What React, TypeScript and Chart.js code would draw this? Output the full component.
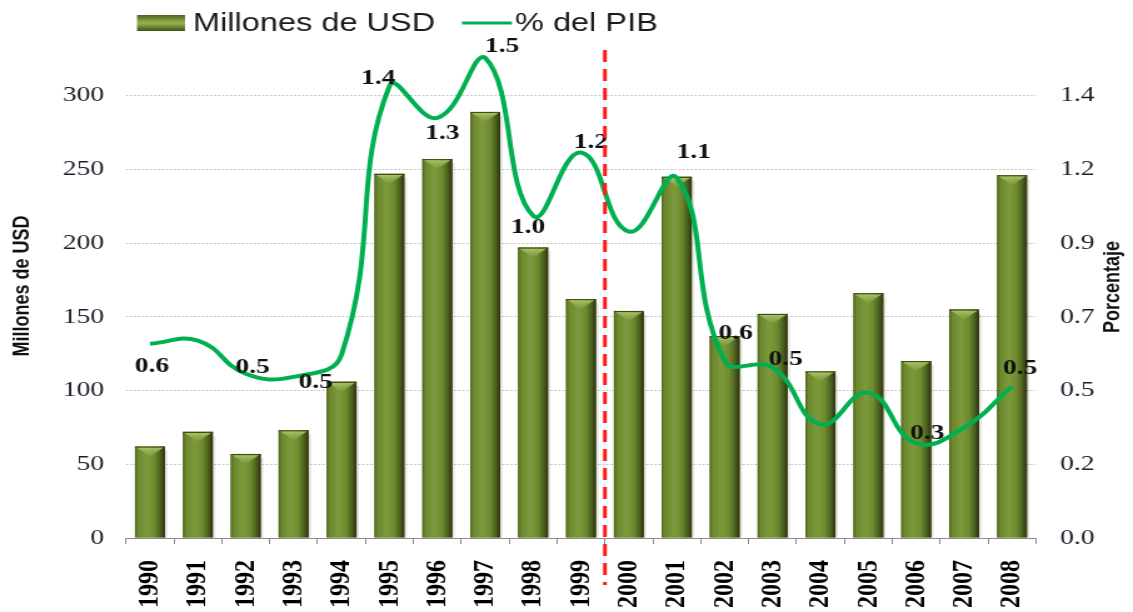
import { useEffect, useRef } from 'react';
import { Chart, registerables } from 'chart.js';

Chart.register(...registerables);

// ---------- data ----------
const years = ['1990', '1991', '1992', '1993', '1994', '1995', '1996', '1997', '1998', '1999', '2000', '2001', '2002', '2003', '2004', '2005', '2006', '2007', '2008'];
const millonesUSD = [62, 72, 57, 73, 106, 247, 257, 289, 197, 162, 154, 245, 137, 152, 113, 166, 120, 155, 246];
const pctPIB = [0.615, 0.625, 0.52, 0.51, 0.58, 1.43, 1.33, 1.52, 1.02, 1.22, 0.97, 1.14, 0.56, 0.54, 0.36, 0.46, 0.3, 0.35, 0.48];
const pctLabels: (string | null)[] = ['0.6', null, '0.5', '0.5', null, '1.4', '1.3', '1.5', '1.0', '1.2', null, '1.1', '0.6', '0.5', null, null, '0.3', null, '0.5'];
const leftTicks = [0, 50, 100, 150, 200, 250, 300];
const rightTicks = [0, 0.23333, 0.46667, 0.7, 0.93333, 1.16667, 1.4];
const seriesNames = ['Millones de USD', '% del PIB'];
const axisTitles = ['Millones de USD', 'Porcentaje'];
// label offsets relative to the point (image px, x then y)
const labelOffsets: [number, number][] = [[2, 23], [0, 0], [7, -6], [22, 5], [0, 0], [-11, -8], [5, 15], [17, -11], [-5, 12], [10, -10], [0, 0], [17, -26], [11, -28], [13, -8], [0, 0], [0, 0], [11, -10], [0, 0], [8, -18]];

// ---------- layout ----------
const OUT_W = 1133;
const H = 612;
const CW = 906; // canvas drawing width (stretched horizontally to OUT_W)
const SX = OUT_W / CW;
const px = (v: number) => v / SX; // image-x -> canvas-x

const barStyle = {
  id: 'barStyle',
  afterDatasetDraw(chart: any, args: any) {
    if (args.index !== 0) return;
    const ctx = chart.ctx as CanvasRenderingContext2D;
    ctx.save();
    args.meta.data.forEach((el: any) => {
      const { x, y, base, width } = el.getProps(['x', 'y', 'base', 'width'], true);
      const l = x - width / 2;
      const r = x + width / 2;
      const t = Math.min(y, base);
      const b = Math.max(y, base);
      ctx.fillStyle = 'rgba(0,0,0,0.10)';
      ctx.fillRect(r, t + 4, 2, b - t - 4);
      const g = ctx.createLinearGradient(l, 0, r, 0);
      g.addColorStop(0, '#4f631c');
      g.addColorStop(0.1, '#6c872e');
      g.addColorStop(0.4, '#7d9a3b');
      g.addColorStop(0.65, '#6f8b30');
      g.addColorStop(0.85, '#4c5f1e');
      g.addColorStop(1, '#29320c');
      ctx.fillStyle = g;
      ctx.fillRect(l, t, width, b - t);
      ctx.fillStyle = '#3e4d16';
      ctx.fillRect(l, t, width, 1.2);
      const cg = ctx.createLinearGradient(0, t, 0, t + 10);
      cg.addColorStop(0, '#b2cb6e');
      cg.addColorStop(1, 'rgba(130,160,65,0.5)');
      ctx.beginPath();
      ctx.moveTo(l + 1.5, t + 1.2);
      ctx.lineTo(r - 1.5, t + 1.2);
      ctx.lineTo(x, t + 10);
      ctx.closePath();
      ctx.fillStyle = cg;
      ctx.fill();
    });
    ctx.restore();
  },
};

const overlay = {
  id: 'overlay',
  afterDatasetsDraw(chart: any) {
    const ctx = chart.ctx as CanvasRenderingContext2D;
    const meta = chart.getDatasetMeta(1);
    ctx.save();
    // data labels
    ctx.font = 'bold 22px "Liberation Serif", "DejaVu Serif", serif';
    ctx.fillStyle = '#111';
    ctx.textAlign = 'center';
    ctx.textBaseline = 'middle';
    meta.data.forEach((pt: any, i: number) => {
      const txt = pctLabels[i];
      if (!txt) return;
      const [dx, dy] = labelOffsets[i];
      ctx.fillText(txt, pt.x + px(dx), pt.y + dy);
    });
    // red dashed separator between 1999 and 2000
    const xs = chart.scales.x;
    const xr = (xs.getPixelForValue(9) + xs.getPixelForValue(10)) / 2;
    ctx.strokeStyle = '#ff1a1a';
    ctx.lineWidth = 3;
    ctx.setLineDash([12, 7]);
    ctx.beginPath();
    ctx.moveTo(xr, 50);
    ctx.lineTo(xr, 585);
    ctx.stroke();
    ctx.setLineDash([]);

    // legend
    const ly = 23;
    const bx = px(137), bw = px(185) - px(137);
    const bg = ctx.createLinearGradient(0, 15, 0, 31);
    bg.addColorStop(0, '#4f631c');
    bg.addColorStop(0.45, '#8fae4d');
    bg.addColorStop(0.55, '#8fae4d');
    bg.addColorStop(1, '#3f4f15');
    ctx.fillStyle = bg;
    ctx.fillRect(bx, 15, bw, 16);
    ctx.font = '26px "Liberation Sans", Arial, sans-serif';
    ctx.fillStyle = '#1a1a1a';
    ctx.textAlign = 'left';
    ctx.textBaseline = 'middle';
    ctx.fillText(seriesNames[0], px(193), ly + 1);
    ctx.strokeStyle = '#00b050';
    ctx.lineWidth = 3;
    ctx.beginPath();
    ctx.moveTo(px(462), ly);
    ctx.lineTo(px(512), ly);
    ctx.stroke();
    ctx.fillText(seriesNames[1], px(515), ly + 1);

    // axis titles
    ctx.font = 'bold 18px "Liberation Sans", Arial, sans-serif';
    ctx.fillStyle = '#111';
    ctx.textAlign = 'center';
    ctx.save();
    ctx.translate(px(23), 286);
    ctx.rotate(-Math.PI / 2);
    ctx.fillText(axisTitles[0], 0, 0);
    ctx.restore();
    ctx.save();
    ctx.translate(px(1113), 287);
    ctx.rotate(-Math.PI / 2);
    ctx.fillText(axisTitles[1], 0, 0);
    ctx.restore();
    ctx.restore();
  },
};

export default function App() {
  const ref = useRef<HTMLCanvasElement | null>(null);

  useEffect(() => {
    document.body.style.margin = '0';
    const canvas = ref.current;
    if (!canvas) return;
    const chart = new Chart(canvas, {
      type: 'bar',
      data: {
        labels: years,
        datasets: [
          {
            type: 'bar',
            label: seriesNames[0],
            data: millonesUSD,
            yAxisID: 'y',
            backgroundColor: '#6f8b30',
            barPercentage: 0.627,
            categoryPercentage: 1,
            order: 1,
          },
          {
            type: 'line',
            label: seriesNames[1],
            data: pctPIB,
            yAxisID: 'y1',
            borderColor: '#00b050',
            borderWidth: 4,
            tension: 0.45,
            pointRadius: 0,
            fill: false,
            order: 0,
          } as any,
        ],
      },
      options: {
        responsive: false,
        animation: false,
        devicePixelRatio: 1,
        layout: { padding: { top: 50, left: 0, right: 0, bottom: 0 } },
        plugins: { legend: { display: false }, tooltip: { enabled: false }, title: { display: false } },
        scales: {
          x: {
            offset: true,
            grid: { offset: true, drawOnChartArea: false, drawTicks: true, tickLength: 6, color: '#8c8c8c' },
            border: { display: true, color: '#8c8c8c', width: 1 },
            ticks: {
              autoSkip: false,
              minRotation: 90,
              maxRotation: 90,
              padding: 16,
              color: '#000',
              font: { family: '"Liberation Serif", "DejaVu Serif", serif', size: 24, weight: 'bold' },
            },
            afterFit: (s: any) => { s.height = H - 538; },
          },
          y: {
            position: 'left',
            min: 0,
            max: 331,
            afterBuildTicks: (s: any) => { s.ticks = leftTicks.map((v) => ({ value: v })); },
            grid: {
              drawTicks: false,
              color: (c: any) => (c.tick && c.tick.value === 0 ? 'rgba(0,0,0,0)' : '#bdbdbd'),
              lineWidth: 1,
            },
            border: { display: false, dash: [1.6, 1.6] },
            ticks: {
              padding: px(22),
              color: '#1c1c2a',
              font: { family: '"Liberation Serif", "DejaVu Serif", serif', size: 22 },
            },
            afterFit: (s: any) => { s.width = px(126); },
          },
          y1: {
            position: 'right',
            min: 0,
            max: 331 * 1.4 / 300,
            afterBuildTicks: (s: any) => { s.ticks = rightTicks.map((v) => ({ value: v })); },
            grid: { display: false, drawTicks: false },
            border: { display: false },
            ticks: {
              padding: px(24),
              color: '#1c1c2a',
              font: { family: '"Liberation Serif", "DejaVu Serif", serif', size: 22 },
              callback: (v: any) => Number(v).toFixed(1),
            },
            afterFit: (s: any) => { s.width = CW - px(1036); },
          },
        },
      },
      plugins: [barStyle, overlay],
    });
    return () => chart.destroy();
  }, []);

  return (
    <canvas
      ref={ref}
      width={CW}
      height={H}
      style={{ width: OUT_W + 'px', height: H + 'px', display: 'block' }}
    />
  );
}
